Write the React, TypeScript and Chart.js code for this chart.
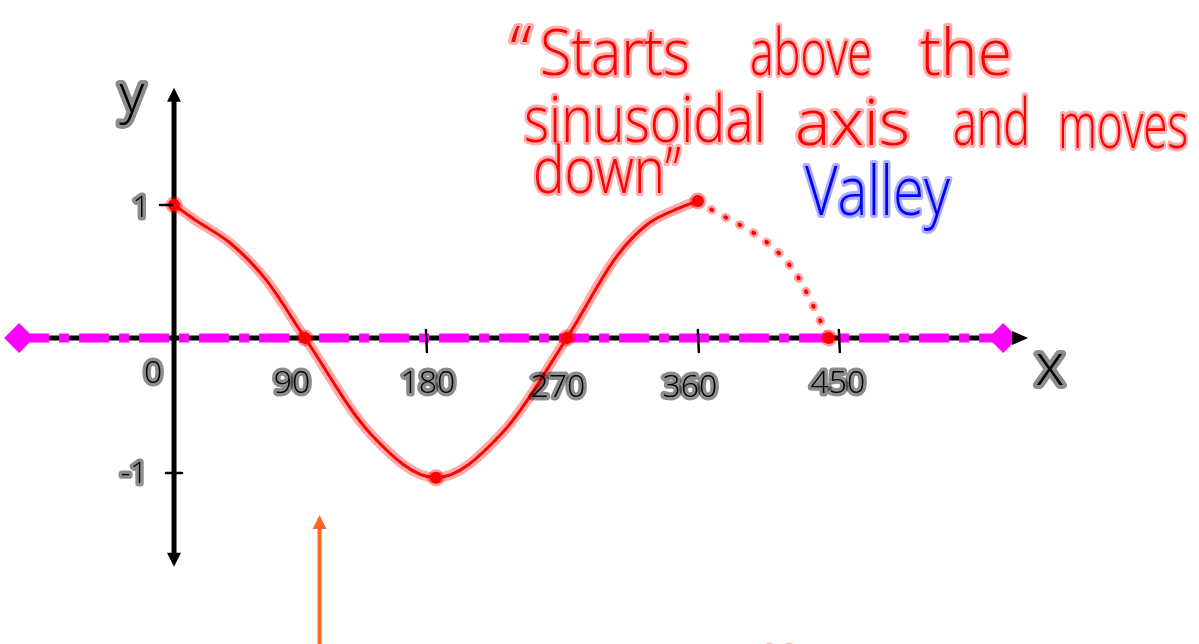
import { useEffect, useRef } from 'react';
import { Chart, registerables } from 'chart.js';

Chart.register(...registerables);

// ---- data ----
const curveX = [0, 14, 39, 63, 90, 135, 180, 225, 270, 304, 326, 348, 360];
const curveY = [1, 0.89, 0.71, 0.44, 0, -0.72, -1.05, -0.72, 0, 0.61, 0.86, 0.98, 1.03];
const dottedX = [360, 425, 450];
const dottedY = [1.03, 0.52, 0];
const markerX = [0, 90, 180, 270, 360, 450];
const markerY = [1, 0, -1.05, 0, 1.03, 0];
const midlineX = [-106.5, 569.8];
const midlineY = [0, 0];
const xAxisX = [-113, 580];
const yAxisY = [-1.63, 1.79];
const xTickValues = [0, 90, 180, 270, 360, 450];
const xTickLabels = ['0', '90', '180', '270', '360', '450'];
const yTickValues = [1, -1];
const yTickLabels = ['1', '-1'];

const THIN_FONT = '300 SIZEpx "Open Sans", "DejaVu Sans", sans-serif';

function pts(xs: number[], ys: number[]) {
  return xs.map((x, i) => ({ x, y: ys[i] }));
}

function handText(
  ctx: CanvasRenderingContext2D,
  text: string,
  x: number,
  y: number,
  size: number,
  fill: string,
  glow: string,
  glowW: number,
  targetW?: number,
  center?: boolean
) {
  ctx.save();
  ctx.font = THIN_FONT.replace('SIZE', String(size));
  ctx.textBaseline = 'alphabetic';
  ctx.textAlign = 'left';
  const w = ctx.measureText(text).width;
  const sx = targetW ? targetW / w : 1;
  const left = center ? x - (w * sx) / 2 : x;
  ctx.translate(left, y);
  ctx.scale(sx, 1);
  ctx.lineJoin = 'round';
  ctx.lineCap = 'round';
  ctx.strokeStyle = glow;
  ctx.lineWidth = glowW;
  ctx.strokeText(text, 0, 0);
  ctx.fillStyle = fill;
  ctx.fillText(text, 0, 0);
  ctx.restore();
}

function arrowHead(
  ctx: CanvasRenderingContext2D,
  tx: number,
  ty: number,
  dx: number,
  dy: number,
  len: number,
  half: number,
  color: string
) {
  const bx = tx - dx * len;
  const by = ty - dy * len;
  ctx.save();
  ctx.fillStyle = color;
  ctx.beginPath();
  ctx.moveTo(tx, ty);
  ctx.lineTo(bx - dy * half, by + dx * half);
  ctx.lineTo(bx + dy * half, by - dx * half);
  ctx.closePath();
  ctx.fill();
  ctx.restore();
}

const redWords = [
  { t: '\u201C', x: 510, y: 72, w: 22 },
  { t: 'Starts', x: 540, y: 75, w: 150 },
  { t: 'above', x: 750, y: 75, w: 122 },
  { t: 'the', x: 920, y: 75, w: 92 },
  { t: 'sinusoidal', x: 524, y: 142, w: 242 },
  { t: 'axis', x: 795, y: 145, w: 115 },
  { t: 'and', x: 953, y: 145, w: 77 },
  { t: 'moves', x: 1058, y: 148, w: 130 },
  { t: 'down\u201D', x: 533, y: 193, w: 148 },
];

export default function App() {
  const ref = useRef<HTMLCanvasElement>(null);

  useEffect(() => {
    const canvas = ref.current!;
    const decor = {
      id: 'decor',
      afterDatasetsDraw(chart: any) {
        const ctx: CanvasRenderingContext2D = chart.ctx;
        const sx = chart.scales.x;
        const sy = chart.scales.y;
        const X = (v: number) => sx.getPixelForValue(v);
        const Y = (v: number) => sy.getPixelForValue(v);

        // axis arrowheads
        arrowHead(ctx, X(587), Y(0), 1, 0, 16, 7, '#000');
        arrowHead(ctx, X(0), Y(1.88), 0, -1, 14, 7, '#000');
        arrowHead(ctx, X(0), Y(-1.72), 0, 1, 14, 7, '#000');

        // small tick marks
        ctx.save();
        ctx.strokeStyle = '#000';
        ctx.lineWidth = 2.5;
        ctx.lineCap = 'round';
        xTickValues.forEach((v) => {
          if (v === 0 || v === 90 || v === 270) return;
          const px = X(v) + (v === 180 ? -10 : v === 450 ? 10 : 0);
          ctx.beginPath();
          ctx.moveTo(px, Y(0) - 8);
          ctx.lineTo(px + 1, Y(0) + 14);
          ctx.stroke();
        });
        yTickValues.forEach((v) => {
          const py = Y(v) + (v < 0 ? 2 : 0);
          ctx.beginPath();
          ctx.moveTo(X(0) - (v > 0 ? 14 : 8), py);
          ctx.lineTo(X(0) + (v > 0 ? -2 : 8), py);
          ctx.stroke();
        });
        ctx.restore();

        // tick labels (hand written look)
        const xOff = [-21, -13, -8, -9, -8, 9];
        const xBase = [383, 393, 393, 397, 397, 393];
        xTickValues.forEach((v, i) => {
          handText(ctx, xTickLabels[i], X(v) + xOff[i], xBase[i], 32, '#000', 'rgba(0,0,0,0.45)', 7, undefined, true);
        });
        yTickValues.forEach((v, i) => {
          const base = Y(v) + 12;
          handText(ctx, yTickLabels[i], X(0) - (v > 0 ? 33 : 40), base, 30, '#000', 'rgba(0,0,0,0.45)', 7, undefined, true);
        });

        // axis names
        handText(ctx, 'y', 132, 112, 54, '#000', 'rgba(0,0,0,0.45)', 8, undefined, true);
        handText(ctx, 'x', 1050, 385, 58, '#000', 'rgba(0,0,0,0.45)', 8, undefined, true);

        // red annotation
        redWords.forEach((w) => {
          handText(ctx, w.t, w.x, w.y, 64, '#ff0000', 'rgba(255,0,0,0.32)', 6, w.w);
        });
        // blue annotation
        handText(ctx, 'Valley', 805, 215, 68, '#0000ff', 'rgba(0,0,255,0.32)', 6, 145);
        // cut-off red letter at the bottom
        handText(ctx, 'y', 768, 672, 48, '#ff0000', 'rgba(255,0,0,0.32)', 6);

        // orange arrow
        ctx.save();
        ctx.strokeStyle = '#ff6a22';
        ctx.lineWidth = 4;
        ctx.beginPath();
        ctx.moveTo(X(100), Y(-2.4));
        ctx.lineTo(X(100), Y(-1.38));
        ctx.stroke();
        ctx.restore();
        arrowHead(ctx, X(100), Y(-1.33), 0, -1, 14, 7, '#ff6a22');
      },
    };

    const chart = new Chart(canvas, {
      type: 'line',
      data: {
        datasets: [
          {
            label: 'x axis',
            data: pts(xAxisX, [0, 0]),
            borderColor: '#000',
            borderWidth: 5,
            pointRadius: 0,
            order: 10,
          },
          {
            label: 'sinusoidal axis',
            data: pts(midlineX, midlineY),
            borderColor: '#ff00ff',
            backgroundColor: '#ff00ff',
            borderWidth: 9,
            borderDash: [30, 10, 10, 10],
            pointStyle: 'rectRot',
            pointRadius: 15,
            pointBorderWidth: 0,
            order: 9,
          },
          {
            label: 'y axis',
            data: pts([0, 0], yAxisY),
            borderColor: '#000',
            borderWidth: 5,
            pointRadius: 0,
            order: 8,
          },
          {
            label: 'dotted glow',
            data: pts(dottedX, dottedY),
            borderColor: 'rgba(255,0,0,0.35)',
            borderWidth: 9,
            borderDash: [1, 15],
            borderCapStyle: 'round',
            cubicInterpolationMode: 'monotone',
            pointRadius: 0,
            order: 7,
          },
          {
            label: 'dotted',
            data: pts(dottedX, dottedY),
            borderColor: '#ff0000',
            borderWidth: 4,
            borderDash: [1, 15],
            borderCapStyle: 'round',
            cubicInterpolationMode: 'monotone',
            pointRadius: 0,
            order: 6,
          },
          {
            label: 'curve glow',
            data: pts(curveX, curveY),
            borderColor: 'rgba(255,40,40,0.4)',
            borderWidth: 10,
            borderCapStyle: 'round',
            borderJoinStyle: 'round',
            cubicInterpolationMode: 'monotone',
            pointRadius: 0,
            order: 5,
          },
          {
            label: 'curve',
            data: pts(curveX, curveY),
            borderColor: '#ff0000',
            borderWidth: 3,
            cubicInterpolationMode: 'monotone',
            pointRadius: 0,
            order: 4,
          },
          {
            label: 'key points',
            data: pts(markerX, markerY),
            showLine: false,
            backgroundColor: '#ff0000',
            borderColor: 'rgba(255,0,0,0.4)',
            pointRadius: 6,
            pointBorderWidth: 5,
            order: 3,
          },
        ] as any,
      },
      options: {
        animation: false,
        responsive: false,
        events: [],
        layout: { padding: 0, autoPadding: false },
        plugins: {
          legend: { display: false },
          tooltip: { enabled: false },
          title: { display: false },
        },
        scales: {
          x: { type: 'linear', min: -119.6, max: 704.4, display: false },
          y: { type: 'linear', min: -2.3, max: 2.54, display: false },
        },
      } as any,
      plugins: [decor],
    });
    return () => chart.destroy();
  }, []);

  return (
    <div style={{ position: 'fixed', left: 0, top: 0, width: 1199, height: 644, background: '#fff' }}>
      <canvas ref={ref} width={1199} height={644} style={{ display: 'block' }} />
    </div>
  );
}
